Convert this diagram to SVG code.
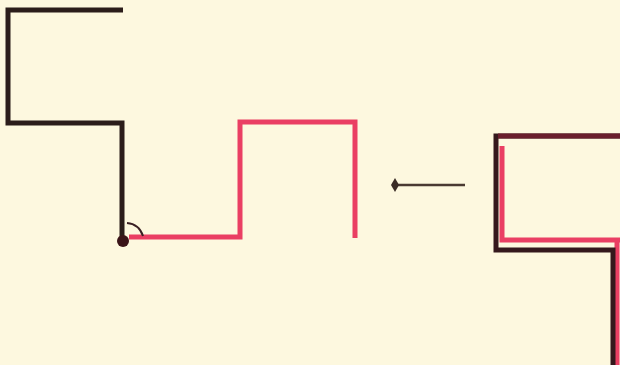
<svg xmlns="http://www.w3.org/2000/svg" width="620" height="365" viewBox="0 0 620 365">
<style>
.blk{fill:none;stroke:#2b1d1a;stroke-width:5;stroke-linejoin:miter;stroke-linecap:butt}
.red{fill:none;stroke:#ea3f63;stroke-width:5;stroke-linejoin:miter;stroke-linecap:butt}
.thin{fill:none;stroke:#4a3a32;stroke-width:2.5}
</style>
<defs>
<marker id="ah" viewBox="0 0 8 14" refX="3" refY="7" markerWidth="8" markerHeight="14" orient="auto-start-reverse" markerUnits="userSpaceOnUse">
<path d="M0,7 L4,0 L8,7 L4,14 Z" fill="#3a2c26"/>
</marker>
</defs>
<rect width="620" height="365" fill="#fdf8df"/>
<g id="left-black">
<path class="blk" d="M123,10 H8 V123 H122 V240"/>
<circle cx="123" cy="241" r="6" fill="#3a1418"/>
</g>
<g id="left-red">
<path class="red" d="M129,237 H240 V122 H355 V238"/>
</g>
<g id="turn-arc">
<path d="M127,223 Q139,224 143,236" fill="none" stroke="#3a2024" stroke-width="2"/>
</g>
<g id="right-shape">
<path class="red" d="M502,146 V240 H620"/>
<path class="red" d="M617,242 V365" stroke-width="3"/>
<path d="M620,136 H496 V250 H613 V365" fill="none" stroke="#35181c" stroke-width="5"/>
<path d="M498,136 H620" fill="none" stroke="#6a1e2c" stroke-width="5"/>
</g>
<g id="connectors">
<path class="thin" d="M465,185 H396" marker-end="url(#ah)"/>
</g>
</svg>
